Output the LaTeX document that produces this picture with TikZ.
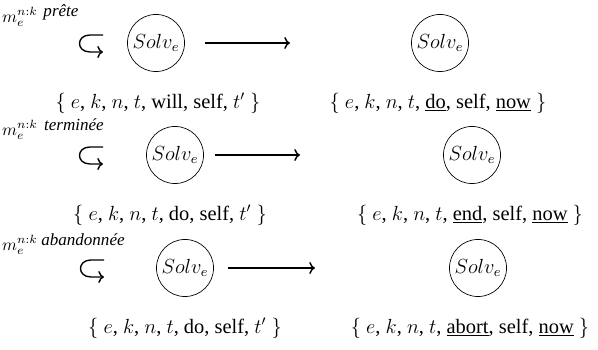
\documentclass[tikz,border=0pt]{standalone}
\usepackage{fontspec}
\setmainfont{Liberation Serif}
\usetikzlibrary{arrows.meta,positioning}

\begin{document}
\begin{tikzpicture}[x=0.587pt,y=-0.587pt,>=To,
  every node/.style={font=\large},
  solv/.style={draw,circle,minimum size=33.5pt,inner sep=0pt},
  mlab/.style={font=\normalsize,inner sep=0pt},
  msg/.style={font=\normalsize\itshape,inner sep=0pt},
  loopy/.style={->,line width=0.8pt},
  step arrow/.style={->,line width=0.8pt}]
  \useasboundingbox (0,0) rectangle (598,350);

  % pr\^ete
  \node[mlab] (m1) at (20,17) {$m_e^{n:k}$};
  \node[msg] (p1) at (61,12) {prête};
  \draw[loopy] (103,35) -- (90,35) .. controls (76,35) and (76,52) .. (90,52) -- (103,52);
  \node[solv] (l1) at (156,43) {$Solv_e$};
  \node[solv] (r1) at (440,43) {$Solv_e$};
  \node (sl1) at (158,103) {$\{$ $e$, $k$, $n$, $t$, will, self, $t'$ $\}$};
  \node (sr1) at (438,103) {$\{$ $e$, $k$, $n$, $t$, \underline{do}, self, \underline{now} $\}$};
  \coordinate (a1) at (205,43);
  \coordinate (b1) at (290,43);
  \draw[step arrow] (a1) -- (b1);

  % termin\'ee
  \node[mlab] (m2) at (20,130) {$m_e^{n:k}$};
  \node[msg] (p2) at (74,125) {terminée};
  \draw[loopy] (103,147) -- (90,147) .. controls (76,147) and (76,164) .. (90,164) -- (103,164);
  \node[solv] (l2) at (175,155) {$Solv_e$};
  \node[solv] (r2) at (472,155) {$Solv_e$};
  \node (sl2) at (170,215) {$\{$ $e$, $k$, $n$, $t$, do, self, $t'$ $\}$};
  \node (sr2) at (470,215) {$\{$ $e$, $k$, $n$, $t$, \underline{end}, self, \underline{now} $\}$};
  \coordinate (a2) at (215,155);
  \coordinate (b2) at (300,155);
  \draw[step arrow] (a2) -- (b2);

  % abandonn\'ee
  \node[mlab] (m3) at (20,245) {$m_e^{n:k}$};
  \node[msg] (p3) at (83,240) {abandonnée};
  \draw[loopy] (104,260) -- (91,260) .. controls (77,260) and (77,277) .. (91,277) -- (104,277);
  \node[solv] (l3) at (185,268) {$Solv_e$};
  \node[solv] (r3) at (478,268) {$Solv_e$};
  \node (sl3) at (185,328) {$\{$ $e$, $k$, $n$, $t$, do, self, $t'$ $\}$};
  \node (sr3) at (470,328) {$\{$ $e$, $k$, $n$, $t$, \underline{abort}, self, \underline{now} $\}$};
  \coordinate (a3) at (228,268);
  \coordinate (b3) at (315,268);
  \draw[step arrow] (a3) -- (b3);
\end{tikzpicture}
\end{document}
